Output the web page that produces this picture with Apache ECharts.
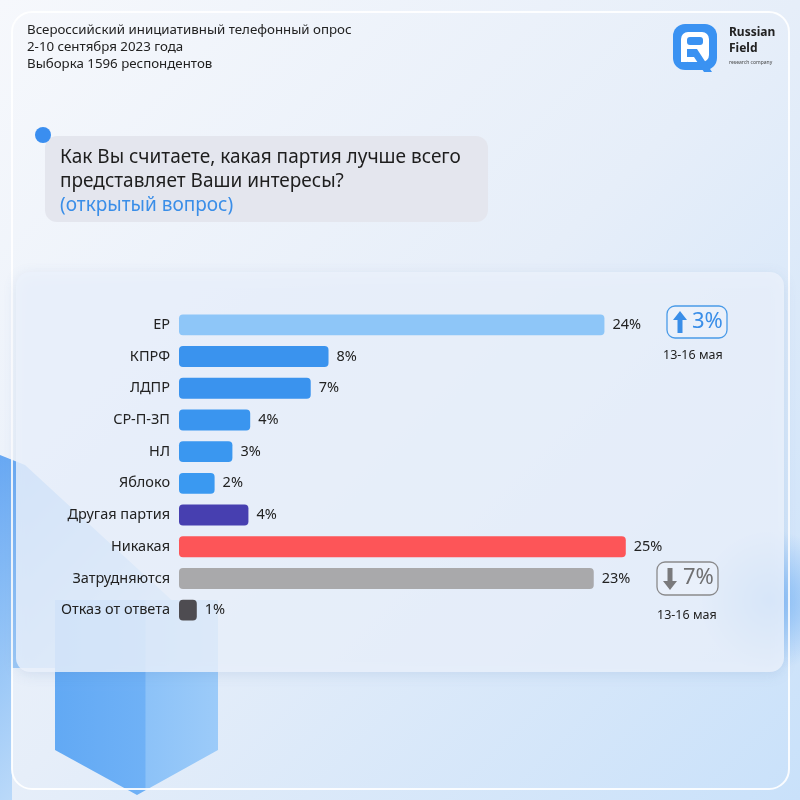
<!DOCTYPE html>
<html>
<head>
<meta charset="utf-8">
<script src="https://cdn.jsdelivr.net/npm/echarts@6/dist/echarts.min.js"></script>
<style>html,body{margin:0;padding:0;}#c{width:800px;height:800px;}</style>
</head>
<body>
<div id="c"></div>
<script>
const categories = ['ЕР','КПРФ','ЛДПР','СР-П-ЗП','НЛ','Яблоко','Другая партия','Никакая','Затрудняются','Отказ от ответа'];
const values = [23.9, 8.4, 7.4, 4.0, 3.0, 2.0, 3.9, 25.1, 23.3, 1.0];
const labels = ['24%','8%','7%','4%','3%','2%','4%','25%','23%','1%'];
const barColors = ['#8ec6f8','#3a93ee','#3a93ee','#3a95ef','#3a97f0','#3a99f1','#473fb0','#fd5558','#a9a9ab','#4e4c51'];
const headerLines = ['Всероссийский инициативный телефонный опрос','2-10 сентября 2023 года','Выборка 1596 респондентов'];
const questionLines = ['Как Вы считаете, какая партия лучше всего','представляет Ваши интересы?'];
const questionNote = '(открытый вопрос)';
const changeUp = '3%';
const changeDown = '7%';
const changeDate = '13-16 мая';

const FONT = 'Noto Sans';
const chart = echarts.init(document.getElementById('c'));

const graphic = [
  // background
  {type:'rect', z:-20, shape:{x:0,y:0,width:800,height:800},
   style:{fill:new echarts.graphic.LinearGradient(0,0,1,1,[{offset:0,color:'#f6f8fc'},{offset:0.5,color:'#e6eef9'},{offset:1,color:'#c9e1fa'}])}},
  // left blob
  {type:'polygon', z:-19, shape:{points:[[0,455],[25,465],[215,640],[215,668],[12,668],[12,800],[0,800]]},
   style:{fill:new echarts.graphic.LinearGradient(0,0,1,0.6,[{offset:0,color:'#4595f1'},{offset:0.5,color:'#86bdf6'},{offset:1,color:'#c5e0fb'}]), opacity:0.8}},
  // hexagon
  {type:'polygon', z:-18, shape:{points:[[55,600],[218,600],[218,750],[137,795],[55,750]]},
   style:{fill:new echarts.graphic.LinearGradient(0,0,1,0,[{offset:0,color:'#62a9f4'},{offset:0.55,color:'#6fb1f6'},{offset:0.56,color:'#8cc2f8'},{offset:1,color:'#9ccbf9'}])}},
  // right blur blob
  {type:'circle', z:-18, shape:{cx:770,cy:600,r:70},
   style:{fill:new echarts.graphic.RadialGradient(0.5,0.5,0.5,[{offset:0,color:'rgba(120,180,245,0.9)'},{offset:1,color:'rgba(120,180,245,0)'}])}},
  // outer frame
  {type:'rect', z:-17, shape:{x:12,y:12,width:777,height:777,r:20},
   style:{fill:'none',stroke:'rgba(255,255,255,0.9)',lineWidth:2}},
  // card
  {type:'rect', z:-10, shape:{x:16,y:272,width:768,height:400,r:14},
   style:{fill:'rgba(236,242,251,0.82)',shadowBlur:14,shadowColor:'rgba(80,120,180,0.18)',shadowOffsetY:3}},
  // question bubble
  {type:'rect', z:-10, shape:{x:45,y:136,width:443,height:86,r:12},
   style:{fill:'#e4e6ee'}},
  {type:'circle', z:-9, shape:{cx:43,cy:135,r:8}, style:{fill:'#3a8ef0'}},
  // header text
  ...headerLines.map((t,i)=>({type:'text', left:27, top:24+i*17, style:{text:t, font:'13.3px "'+FONT+'"', fill:'#222'}})),
  // question text
  ...questionLines.map((t,i)=>({type:'text', left:60, top:148+i*24, style:{text:t, font:'19px "'+FONT+'"', fill:'#1e1e1e'}})),
  {type:'text', left:60, top:196, style:{text:questionNote, font:'19px "'+FONT+'"', fill:'#3a8ee8'}},
  // logo
  {type:'rect', shape:{x:673,y:24,width:44,height:46,r:12}, style:{fill:'#3a92f2'}},
  {type:'rect', shape:{x:681,y:32,width:28,height:30,r:7}, style:{fill:'#ffffff'}},
  {type:'rect', shape:{x:687,y:37,width:16,height:8,r:3}, style:{fill:'#3a92f2'}},
  {type:'polygon', shape:{points:[[687,49],[697,49],[712,72],[704,72],[694,57],[687,57]]}, style:{fill:'#3a92f2'}},
  {type:'rect', shape:{x:681,y:49,width:6,height:13}, style:{fill:'#ffffff'}},
  {type:'text', left:729, top:27, style:{text:'Russian', font:'bold 12px "'+FONT+'"', fill:'#222'}},
  {type:'text', left:729, top:43, style:{text:'Field', font:'bold 12px "'+FONT+'"', fill:'#222'}},
  {type:'text', left:729, top:60, style:{text:'research company', font:'5px "'+FONT+'"', fill:'#444'}},
  // up badge
  {type:'rect', shape:{x:667,y:306,width:60,height:32,r:8}, style:{fill:'rgba(255,255,255,0.2)',stroke:'#4a9be8',lineWidth:1.3}},
  {type:'polygon', shape:{points:[[680,311],[687,320],[682.5,320],[682.5,333],[677.5,333],[677.5,320],[673,320]]}, style:{fill:'#3a8ee8'}},
  {type:'text', left:692, top:311, style:{text:changeUp, font:'22px "'+FONT+'"', fill:'#3a8ee8'}},
  {type:'text', left:663, top:349, style:{text:changeDate, font:'12.5px "'+FONT+'"', fill:'#222'}},
  // down badge
  {type:'rect', shape:{x:657,y:562,width:61,height:33,r:8}, style:{fill:'rgba(255,255,255,0.2)',stroke:'#8a8a8c',lineWidth:1.3}},
  {type:'polygon', shape:{points:[[670,590],[677,581],[672.5,581],[672.5,568],[667.5,568],[667.5,581],[663,581]]}, style:{fill:'#7a7a7c'}},
  {type:'text', left:683, top:567, style:{text:changeDown, font:'22px "'+FONT+'"', fill:'#707072'}},
  {type:'text', left:657, top:609, style:{text:changeDate, font:'12.5px "'+FONT+'"', fill:'#222'}}
];

chart.setOption({
  animation:false,
  graphic: graphic,
  grid:{left:179, right:87, top:309, height:317, containLabel:false},
  xAxis:{type:'value', min:0, max:30, show:false},
  yAxis:{type:'category', inverse:true, data:categories,
    axisLine:{show:false}, axisTick:{show:false},
    axisLabel:{margin:9, fontSize:14.5, color:'#222', fontFamily:FONT}},
  series:[{type:'bar', barCategoryGap:'34%',
    data: values.map((v,i)=>({value:v, itemStyle:{color:barColors[i], borderRadius:4}})),
    label:{show:true, position:'right', distance:8, fontSize:14.5, color:'#222', fontFamily:FONT,
      formatter:(p)=>labels[p.dataIndex]}
  }]
});
</script>
</body>
</html>
